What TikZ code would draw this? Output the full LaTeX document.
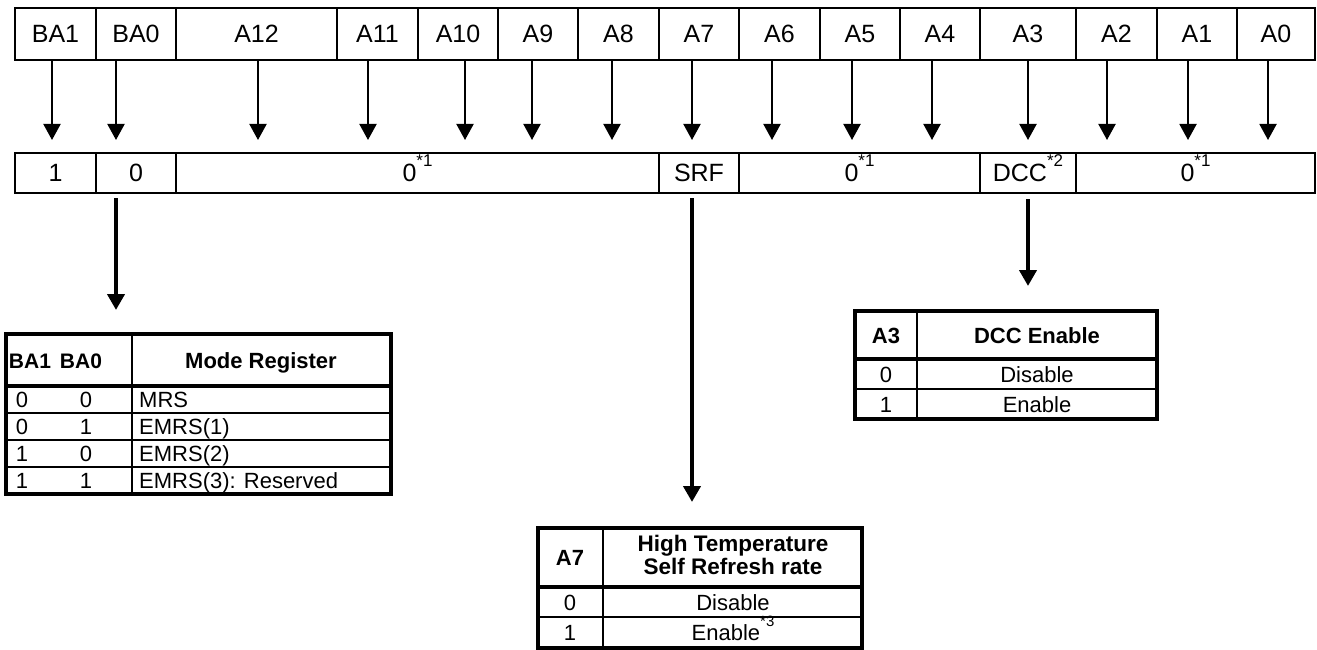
\documentclass[tikz,border=0pt]{standalone}
\usepackage{fontspec}
\usepackage{graphicx}
\setmainfont{Liberation Sans}
\usetikzlibrary{arrows.meta}
\newcommand\mysup[1]{\raisebox{0.6em}{\scalebox{0.68}{#1}}}
\begin{document}
\begin{tikzpicture}[x=1pt,y=-1pt,
  cellbox/.style={draw, line width=2.5pt, inner sep=0pt, outer sep=0pt, text height=18pt, text depth=0pt, font=\fontsize{25}{30}\selectfont},
  thinarr/.style={line width=2pt, -{Triangle[length=16pt,width=17pt]}},
  thickarr/.style={line width=4pt, -{Triangle[length=16pt,width=17pt]}},
  tframe/.style={draw, line width=4.5pt, inner sep=0pt, outer sep=0pt},
  tsep/.style={line width=4pt},
  tline/.style={line width=1.5pt},
  ttext/.style={inner sep=0pt, text height=16pt, text depth=0pt, font=\fontsize{22}{26}\selectfont},
  thead/.style={inner sep=0pt, text height=16pt, text depth=0pt, font=\fontsize{22}{26}\selectfont\bfseries},
  thead2/.style={inner sep=0pt, font=\fontsize{22.5}{23.5}\selectfont\bfseries, align=center},
]
\useasboundingbox (0,0) rectangle (1317,650);

% top row
\foreach \l/\r/\t/\n in {15/96/BA1/t0, 96/176/BA0/t1, 176/337/A12/t2, 337/418/A11/t3,
  418/498/A10/t4, 498/578/A9/t5, 578/659/A8/t6, 659/739/A7/t7, 739/820/A6/t8,
  820/900/A5/t9, 900/980/A4/t10, 980/1076/A3/t11, 1076/1157/A2/t12,
  1157/1237/A1/t13, 1237/1315/A0/t14}{
  \pgfmathsetmacro\w{\r-\l}
  \pgfmathsetmacro\c{(\l+\r)/2}
  \node[cellbox, minimum width=\w pt, minimum height=52pt] (\n) at (\c,34) {\t};
}

% second row
\foreach \l/\r/\t/\n in {15/96/{1}/b0, 96/176/{0}/b1, 176/659/{0\mysup{*1}}/b2,
  659/739/{SRF}/b3, 739/980/{0\mysup{*1}}/b4, 980/1076/{DCC\mysup{*2}}/b5,
  1076/1315/{0\mysup{*1}}/b6}{
  \pgfmathsetmacro\w{\r-\l}
  \pgfmathsetmacro\c{(\l+\r)/2}
  \node[cellbox, minimum width=\w pt, minimum height=40pt] (\n) at (\c,173) {\t};
}

% arrows between rows
\foreach \n/\x in {t0/52, t1/116, t2/258, t3/368, t4/465, t5/532, t6/612, t7/692,
  t8/772, t9/852, t10/932, t11/1028, t12/1107, t13/1188, t14/1268}{
  \coordinate (h\n) at (\x,140);
  \draw[thinarr] (\n.south -| h\n) -- (h\n);
}

% long arrows
\coordinate (mtip) at (116,310);
\coordinate (stip) at (692,502);
\coordinate (dtip) at (1028,286);
\draw[thickarr, shorten <=5pt] (b1.south -| mtip) -- (mtip);
\draw[thickarr, shorten <=5pt] (b3.south -| stip) -- (stip);
\draw[thickarr, shorten <=6pt] (b5.south -| dtip) -- (dtip);

% Mode register table
\node[tframe, minimum width=385pt, minimum height=160pt] (mt) at (198.5,414) {};
\draw[tsep] (mt.west |- 0,386) -- (mt.east |- 0,386);
\draw[tline] (132,334) -- (132,494);
\foreach \y in {413,440,467} \draw[tline] (mt.west |- 0,\y) -- (mt.east |- 0,\y);
\node[thead, font=\fontsize{21}{25}\selectfont\bfseries] (mh1) at (30,360) {BA1};
\node[thead, font=\fontsize{21}{25}\selectfont\bfseries] (mh2) at (81,360) {BA0};
\node[thead] (mh3) at (261,360) {Mode Register};
\foreach \y/\a/\b/\t/\n in {399.5/0/0/MRS/r1, 426.5/0/1/EMRS(1)/r2, 453.5/1/0/EMRS(2)/r3, 480.5/1/1/{EMRS(3): Reserved}/r4}{
  \node[ttext] (m\n a) at (22,\y) {\a};
  \node[ttext] (m\n b) at (86,\y) {\b};
  \node[ttext, anchor=west] (m\n c) at (139,\y) {\t};
}

% DCC table
\node[tframe, minimum width=302pt, minimum height=108pt] (dt) at (1006,365) {};
\draw[tsep] (dt.west |- 0,359) -- (dt.east |- 0,359);
\draw[tline] (dt.west |- 0,389) -- (dt.east |- 0,389);
\draw[tline] (917,311) -- (917,419);
\node[thead] (dh1) at (886,335) {A3};
\node[thead] (dh2) at (1037,335) {DCC Enable};
\node[ttext] (d1a) at (886,374) {0};
\node[ttext] (d1b) at (1037,374) {Disable};
\node[ttext] (d2a) at (886,404) {1};
\node[ttext] (d2b) at (1037,404) {Enable};

% SRF table
\node[tframe, minimum width=324pt, minimum height=120pt] (st) at (700,588) {};
\draw[tsep] (st.west |- 0,587) -- (st.east |- 0,587);
\draw[tline] (st.west |- 0,617) -- (st.east |- 0,617);
\draw[tline] (603,528) -- (603,648);
\node[thead] (sh1) at (570,557) {A7};
\node[thead2] (sh2) at (733,555) {High Temperature\\Self Refresh rate};
\node[ttext] (s1a) at (570,602) {0};
\node[ttext] (s1b) at (733,602) {Disable};
\node[ttext] (s2a) at (570,632) {1};
\node[ttext] (s2b) at (733,632) {Enable\mysup{*3}};
\end{tikzpicture}
\end{document}
